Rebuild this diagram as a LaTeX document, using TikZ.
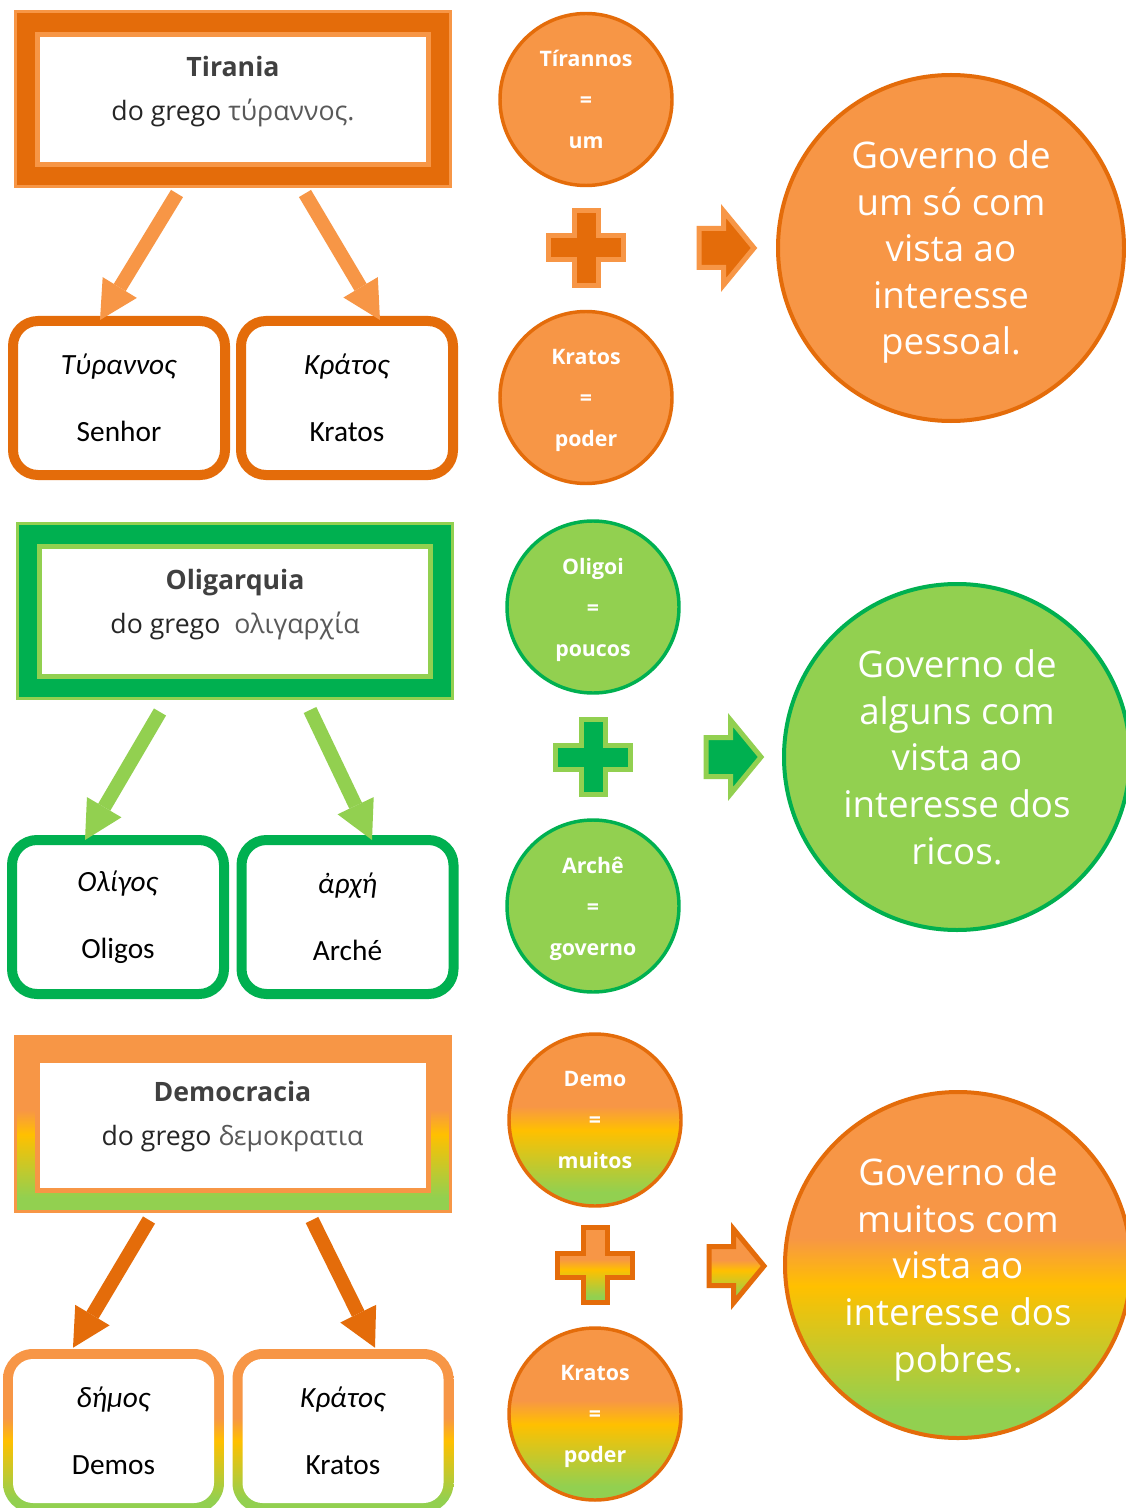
\documentclass[tikz,border=0pt]{standalone}
\usepackage{fontspec}
\setmainfont{Open Sans}
\newfontfamily\boxfont{Carlito}
\usetikzlibrary{arrows.meta,calc}

\definecolor{lorange}{HTML}{F79646}
\definecolor{dorange}{HTML}{E46C0A}
\definecolor{lgreen}{HTML}{92D050}
\definecolor{dgreen}{HTML}{00B050}
\definecolor{gold}{HTML}{FFC000}
\definecolor{headtxt}{HTML}{404040}
\definecolor{subtxt}{HTML}{262626}
\definecolor{greektxt}{HTML}{595959}

% orange (top) -> gold -> green (bottom); the middle 50bp spans the shape
\pgfdeclareverticalshading{tricolor}{100bp}{color(0bp)=(lgreen); color(29bp)=(lgreen); color(47bp)=(gold); color(54bp)=(lorange); color(100bp)=(lorange)}

\newcommand\titlefont{\fontsize{20}{33}\selectfont\bfseries\color{headtxt}}

\tikzset{
  headframe/.style={rectangle, minimum width=326.25pt, minimum height=131.25pt, line width=2.25pt},
  headinner/.style={rectangle, fill=white, minimum width=293.25pt, minimum height=97.5pt, line width=3.75pt},
  headtext/.style={align=center, inner sep=0pt, text=subtxt, font=\fontsize{20}{33}\selectfont},
  wordbox/.style={rectangle, rounded corners=18.75pt, fill=white, minimum width=159pt, minimum height=115.5pt,
    line width=7.5pt, align=center, inner sep=0pt, font=\boxfont\fontsize{22}{50}\selectfont},
  gradbox/.style={rectangle, rounded corners=22.5pt, shade, shading=tricolor, minimum width=165.75pt, minimum height=123pt, inner sep=0pt},
  gradinner/.style={rectangle, rounded corners=15pt, fill=white, minimum width=150.75pt, minimum height=108pt,
    align=center, inner sep=0pt, font=\boxfont\fontsize{22}{50}\selectfont},
  smallcirc/.style={circle, minimum size=129pt, line width=2.6pt, text=white, align=center, inner sep=0pt,
    text depth=0pt, font=\fontsize{16}{30.75}\selectfont\bfseries},
  bigcirc/.style={circle, minimum size=259.5pt, line width=3pt, text=white, align=center, inner sep=0pt,
    text depth=0pt, font=\fontsize{27.5}{34.9}\selectfont},
  blockarrow/.style={line width=10.5pt, -{Triangle[width=30pt,length=28.5pt,line width=0pt]}},
  plussign/.pic={\path[pic actions, line width=3.75pt, line join=miter]
    (-12,-37.5) -- (12,-37.5) -- (12,-12) -- (37.5,-12) -- (37.5,12) -- (12,12) -- (12,37.5)
    -- (-12,37.5) -- (-12,12) -- (-37.5,12) -- (-37.5,-12) -- (-12,-12) -- cycle;},
  arrowsign/.pic={\path[pic actions, line width=3.75pt, line join=miter]
    (-27.5,-19.5) -- (-3,-19.5) -- (-3,-37) -- (27.5,0) -- (-3,37) -- (-3,19.5) -- (-27.5,19.5) -- cycle;}
}

\begin{document}
\begin{tikzpicture}[x=0.75pt, y=-0.75pt]
\useasboundingbox (0,0) rectangle (1126,1508);
\fill[white] (0,0) rectangle (1126,1508);
\clip (0,0) rectangle (1126,1508);

% ---------- Tirania ----------
\node[headframe, fill=dorange, draw=lorange] (tirf) at (233,99.5) {};
\node[headinner, draw=lorange] (tiri) at (233,99.5) {};
\node[headtext] (tirt) at (233,91.5) {{\titlefont Tirania}\\do grego {\color{greektxt}τύραννος.}};

\node[wordbox, draw=dorange] (tyr) at (119,398) {\textit{Τύραννος}\\Senhor};
\node[wordbox, draw=dorange] (kra) at (347,398) {\textit{Κράτος}\\Kratos};

\draw[blockarrow, lorange] ($(tirf.south)+(-56,5)$) -- ($(tyr.north)+(-19,4)$);
\draw[blockarrow, lorange] ($(tirf.south)+(72,5)$) -- ($(kra.north)+(33,4)$);

\node[smallcirc, fill=lorange, draw=dorange] (cty) at (586,99.5) {Tírannos\\=\\um};
\pic[fill=dorange, draw=lorange] (plt) at (586,248) {plussign};
\node[smallcirc, fill=lorange, draw=dorange] (ckt) at (586,397.5) {Kratos\\=\\poder};
\pic[fill=dorange, draw=lorange] (art) at (726.5,248) {arrowsign};
\node[bigcirc, fill=lorange, draw=dorange] (gvt) at (951,248) {Governo de\\um só com\\vista ao\\interesse\\pessoal.};

% ---------- Oligarquia ----------
\node[headframe, fill=dgreen, draw=lgreen] (olf) at (235,611) {};
\node[headinner, draw=lgreen] (oli) at (234.5,611.5) {};
\node[headtext] (olt) at (235,604.5) {{\titlefont Oligarquia}\\do grego\ \ {\color{greektxt}ολιγαρχία}};

\node[wordbox, draw=dgreen] (olg) at (118,917) {\textit{Ολίγος}\\Oligos};
\node[wordbox, draw=dgreen] (arc) at (347.5,917) {\textit{ἀρχή}\\Arché};

\draw[blockarrow, lgreen] ($(olf.south)+(-75,12)$) -- ($(olg.north)+(-33,5)$);
\draw[blockarrow, lgreen] ($(olf.south)+(75,10)$) -- ($(arc.north)+(24.5,5)$);

\node[smallcirc, fill=lgreen, draw=dgreen] (col) at (593,607) {Oligoi\\=\\poucos};
\pic[fill=dgreen, draw=lgreen] (plo) at (593,757) {plussign};
\node[smallcirc, fill=lgreen, draw=dgreen] (car) at (593,906) {Archê\\=\\governo};
\pic[fill=dgreen, draw=lgreen] (aro) at (733.5,757) {arrowsign};
\node[bigcirc, fill=lgreen, draw=dgreen] (gvo) at (957,757) {Governo de\\alguns com\\vista ao\\interesse dos\\ricos.};

% ---------- Democracia ----------
\node[headframe, shade, shading=tricolor, draw=lorange] (def) at (232.5,1124) {};
\node[headinner, draw=lorange] (dei) at (232.5,1125) {};
\node[headtext] (det) at (232.5,1116.5) {{\titlefont Democracia}\\do grego {\color{greektxt}δεμοκρατια}};

\node[gradbox] (dmo) at (113.5,1431) {};
\node[gradinner] (dmt) at (113.5,1431) {\textit{δήμος}\\Demos};
\node[gradbox] (kro) at (343,1431) {};
\node[gradinner] (krt) at (343,1431) {\textit{Κράτος}\\Kratos};

\draw[blockarrow, dorange] ($(def.south)+(-83.5,7)$) -- ($(dmo.north)+(-40.5,-1)$);
\draw[blockarrow, dorange] ($(def.south)+(79.5,7)$) -- ($(kro.north)+(32,-1)$);

\node[smallcirc, shade, shading=tricolor, draw=dorange] (cde) at (595,1120) {Demo\\=\\muitos};
\pic[shade, shading=tricolor, draw=dorange] (pld) at (595,1265) {plussign};
\node[smallcirc, shade, shading=tricolor, draw=dorange] (ckd) at (595,1414) {Kratos\\=\\poder};
\pic[shade, shading=tricolor, draw=dorange] (ard) at (736.5,1266) {arrowsign};
\node[bigcirc, shade, shading=tricolor, draw=dorange] (gvd) at (958,1265) {Governo de\\muitos com\\vista ao\\interesse dos\\pobres.};
\end{tikzpicture}
\end{document}
